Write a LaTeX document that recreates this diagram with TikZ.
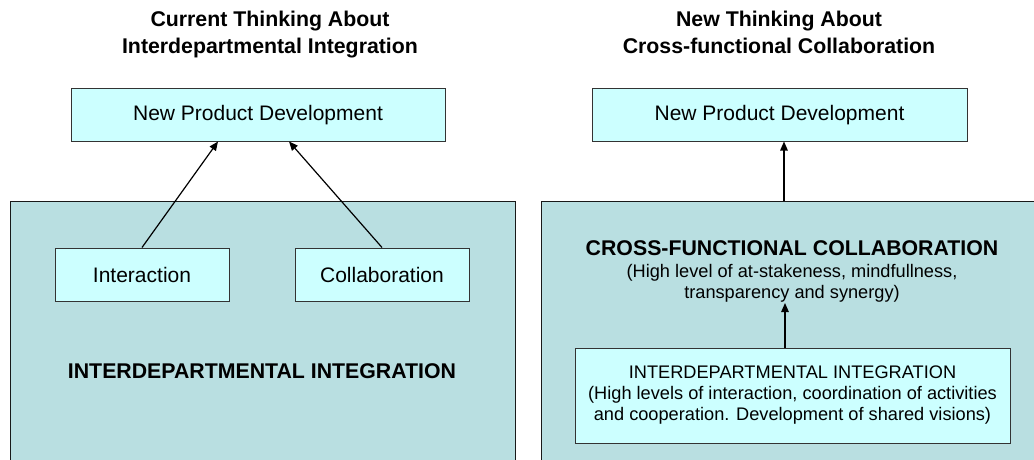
\documentclass[tikz,border=0pt]{standalone}
\usepackage{fontspec}
\setmainfont{Liberation Sans}
\usetikzlibrary{arrows.meta}
\definecolor{lightcyan}{HTML}{CCFFFF}
\definecolor{bigfill}{HTML}{B9DFE1}
\tikzset{
  bigbox/.style={draw=black!90, line width=1pt, fill=bigfill, anchor=north west, inner sep=0pt},
  cyanbox/.style={draw=black!80, line width=1pt, fill=lightcyan, inner sep=0pt, font=\fontsize{21}{25}\selectfont},
  titletext/.style={font=\fontsize{21.3}{27}\selectfont\bfseries, align=center, inner sep=0pt},
  boldtext/.style={font=\fontsize{21.3}{25}\selectfont\bfseries, inner sep=0pt, anchor=base},
  smalltext/.style={font=\fontsize{18.2}{21}\selectfont, align=center, inner sep=0pt},
  arr/.style={-{Triangle[length=9pt,width=7.5pt]}, line width=1.2pt, black}
}
\begin{document}
\begin{tikzpicture}[x=1pt,y=-1pt]
\useasboundingbox (0,0) rectangle (1034,460);
% titles
\node[titletext, anchor=base] (t1a) at (270,27) {Current Thinking About};
\node[titletext, anchor=base] (t1b) at (270,54) {Interdepartmental Integration};
\node[titletext, anchor=base] (t2a) at (779,27) {New Thinking About};
\node[titletext, anchor=base] (t2b) at (779,54) {Cross-functional Collaboration};
% big boxes (extend below the picture)
\node[bigbox, minimum width=505pt, minimum height=275pt] (lbig) at (10,201) {};
\node[bigbox, minimum width=510pt, minimum height=275pt] (rbig) at (541,201) {};
% left side
\node[cyanbox, minimum width=374pt, minimum height=52pt] (npd1) at (258,115) {New Product Development};
\node[cyanbox, minimum width=174pt, minimum height=53pt] (int) at (142,274.5) {Interaction};
\node[cyanbox, minimum width=174pt, minimum height=53pt] (col) at (382,274.5) {Collaboration};
\node[boldtext] (ii) at (262,378) {INTERDEPARTMENTAL INTEGRATION};
\draw[arr] (int.north) -- ([xshift=-40pt]npd1.south);
\draw[arr] (col.north) -- ([xshift=31pt]npd1.south);
% right side
\node[cyanbox, minimum width=375pt, minimum height=52pt] (npd2) at (779.5,115) {New Product Development};
\node[boldtext] (cfc) at (792,255) {CROSS-FUNCTIONAL COLLABORATION};
\node[smalltext, anchor=base] (cfcsub) at (792,298) {(High level of at-stakeness, mindfullness,\\transparency and synergy)};
\node[cyanbox, smalltext, draw=black!80, fill=lightcyan, line width=1pt, minimum width=435pt, minimum height=95pt] (inner) at (792.5,395.5) {INTERDEPARTMENTAL INTEGRATION\\(High levels of interaction, coordination of activities\\and cooperation. Development of shared visions)};
\coordinate (rtop) at ([xshift=4.5pt]npd2.south |- rbig.north);
\draw[arr] (rtop) -- ([xshift=4.5pt]npd2.south);
\coordinate (subbot) at (785,303);
\draw[arr] (inner.north -| subbot) -- (subbot);
\end{tikzpicture}
\end{document}
